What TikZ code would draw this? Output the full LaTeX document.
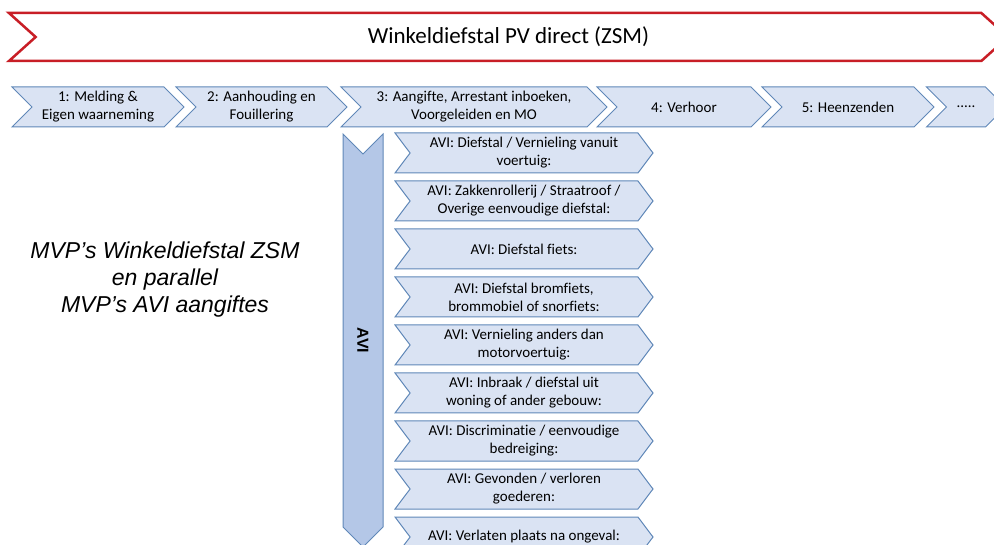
\documentclass[tikz,border=0pt]{standalone}
\usepackage{fontspec}
\setmainfont{Carlito}[Ligatures={NoCommon}]
\newfontfamily\arialfont{Liberation Sans}
\usetikzlibrary{shapes.symbols,positioning}
\definecolor{chevfill}{RGB}{218,227,243}
\definecolor{chevline}{RGB}{96,136,184}
\definecolor{avifill}{RGB}{180,199,231}
\definecolor{titlered}{RGB}{200,30,38}

\begin{document}
\begin{tikzpicture}[
    x=1pt, y=-1pt,
    stepbox/.style={
        signal,
        signal from=west,
        signal to=east,
        draw=chevline,
        fill=chevfill,
        line width=1pt,
        minimum height=40pt,
        inner sep=0pt,
        align=center,
        font=\fontsize{15}{18}\selectfont
    },
    avibox/.style={stepbox, signal pointer angle=106, minimum width=258pt}
]
\useasboundingbox (0,0) rectangle (994,545);

% title
\node[signal, signal from=west, signal to=east, signal pointer angle=84,
      draw=titlered, line width=2.5pt, fill=white,
      minimum width=999pt, minimum height=48pt,
      font=\fontsize{23}{26}\selectfont] (title) at (508.5,37)
      {Winkeldiefstal PV direct (ZSM)};

% steps
\node[stepbox, minimum width=172pt] (s1) at (98,107) {1: Melding \&\\Eigen waarneming};
\node[stepbox, minimum width=171pt] (s2) at (261.5,107) {2: Aanhouding en\\Fouillering};
\node[stepbox, minimum width=266pt] (s3) at (474,107) {3: Aangifte, Arrestant inboeken,\\Voorgeleiden en MO};
\node[stepbox, minimum width=174pt] (s4) at (684,107) {4: Verhoor};
\node[stepbox, minimum width=172pt] (s5) at (848,107) {5: Heenzenden};
\node[stepbox, minimum width=79pt] (s6) at (966,107) {.....};

% AVI bar
\node[signal, signal from=west, signal to=east, rotate=-90,
      draw=chevline, fill=avifill, line width=1pt,
      minimum width=413pt, minimum height=40pt, inner sep=0pt,
      font=\fontsize{16}{20}\selectfont\bfseries\arialfont] (avi) at (363,340.5) {AVI};

% AVI aangiftes
\node[avibox] (a1) at (524,153) {AVI: Diefstal / Vernieling vanuit\\voertuig:};
\node[avibox, below=7pt of a1] (a2) {AVI: Zakkenrollerij / Straatroof /\\Overige eenvoudige diefstal:};
\node[avibox, below=7pt of a2] (a3) {AVI: Diefstal fiets:};
\node[avibox, below=7pt of a3] (a4) {AVI: Diefstal bromfiets,\\brommobiel of snorfiets:};
\node[avibox, below=7pt of a4] (a5) {AVI: Vernieling anders dan\\motorvoertuig:};
\node[avibox, below=7pt of a5] (a6) {AVI: Inbraak / diefstal uit\\woning of ander gebouw:};
\node[avibox, below=7pt of a6] (a7) {AVI: Discriminatie / eenvoudige\\bedreiging:};
\node[avibox, below=7pt of a7] (a8) {AVI: Gevonden / verloren\\goederen:};
\node[avibox, below=7pt of a8] (a9) {AVI: Verlaten plaats na ongeval:};

% left text
\node[align=center, font=\arialfont\itshape\fontsize{23}{27}\selectfont] (mvp) at (165,280)
    {MVP’s Winkeldiefstal ZSM\\en parallel\\MVP’s AVI aangiftes};

\end{tikzpicture}
\end{document}
